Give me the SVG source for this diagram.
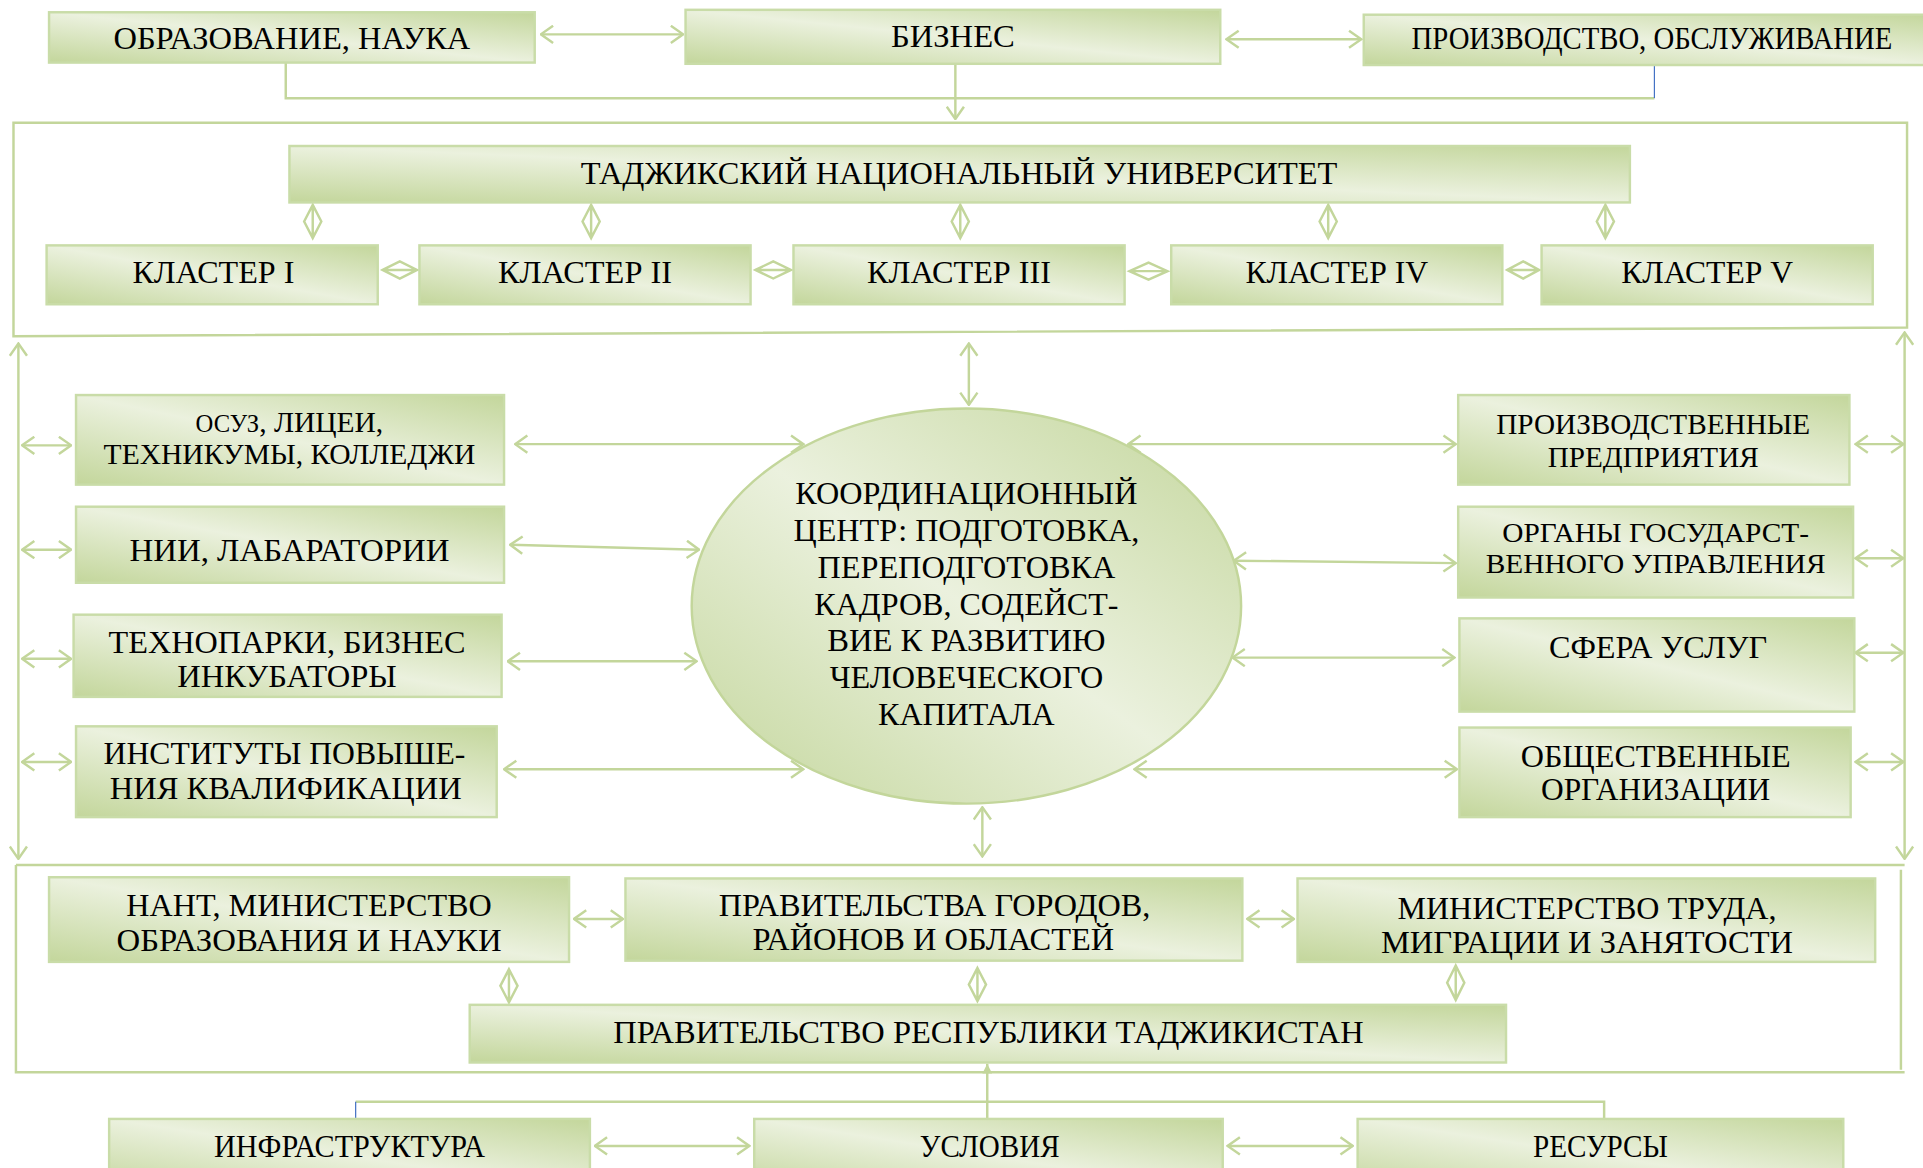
<svg xmlns="http://www.w3.org/2000/svg" width="1923" height="1168" viewBox="0 0 1923 1168">
<defs>
<linearGradient id="gr" x1="1" y1="0" x2="0" y2="1">
<stop offset="0" stop-color="#c3d69b"/>
<stop offset="0.5" stop-color="#ebf1de"/>
<stop offset="1" stop-color="#c3d69b"/>
</linearGradient>
<marker id="ar" viewBox="0 0 12 16" refX="11" refY="8" markerWidth="12" markerHeight="16" markerUnits="userSpaceOnUse" orient="auto-start-reverse">
<path d="M1,1 L11,8 L1,15" fill="none" stroke="#c3d69b" stroke-width="2"/>
</marker>
<marker id="af" viewBox="0 0 8 8" refX="8" refY="4" markerWidth="8" markerHeight="8" markerUnits="userSpaceOnUse" orient="auto">
<path d="M0,0 L8,4 L0,8 Z" fill="#c3d69b"/>
</marker>
</defs>
<style>
.box{fill:url(#gr);stroke:#c9dca8;stroke-width:2}
.fr{fill:none;stroke:#c3d69b;stroke-width:2}
.c{fill:none;stroke:#c3d69b;stroke-width:2}
.ca{fill:none;stroke:#c3d69b;stroke-width:2;marker-start:url(#ar);marker-end:url(#ar)}
.ce{fill:none;stroke:#c3d69b;stroke-width:2;marker-end:url(#ar)}
.cf{fill:none;stroke:#c3d69b;stroke-width:2;marker-end:url(#af)}
.bl{fill:none;stroke:#4472c4;stroke-width:1}
.dm{fill:none;stroke:#c3d69b;stroke-width:2}
.t{font-family:"Liberation Serif","Times New Roman",serif;font-size:26px;fill:#000;text-anchor:middle}
.s{font-size:24px}
.x{font-size:22px}
.n{font-size:26px}
</style>
<rect width="1923" height="1168" fill="#ffffff"/>
<g transform="scale(1.2264 1.2269)">
<g id="frames">
<path id="frame-university" class="fr" d="M11,100 H1555 V267 L11,274 Z"/>
<path id="frame-government" class="fr" d="M13,705 H1553 M1550,709 V872 M1553,874 H13 V705"/>
</g>
<g id="connectors">
<path class="ca" d="M441,28 H557"/>
<path class="ca" d="M1000,32 H1110"/>
<path class="c" d="M233,51 V80 H1349"/>
<path class="bl" d="M1349,53 V80"/>
<path class="ce" d="M779,52 V97"/>
<path class="dm" d="M255,167 L262,180.5 L255,194 L248,180.5 Z M255,167 V194"/>
<path class="dm" d="M482,167 L489,180.5 L482,194 L475,180.5 Z M482,167 V194"/>
<path class="dm" d="M783,167 L790,180.5 L783,194 L776,180.5 Z M783,167 V194"/>
<path class="dm" d="M1083,167 L1090,180.5 L1083,194 L1076,180.5 Z M1083,167 V194"/>
<path class="dm" d="M1309,167 L1316,180.5 L1309,194 L1302,180.5 Z M1309,167 V194"/>
<path class="dm" d="M312,220 L326,213 L340,220 L326,227 Z M312,220 H340"/>
<path class="dm" d="M616,220 L630.5,213 L645,220 L630.5,227 Z M616,220 H645"/>
<path class="dm" d="M921,221 L936.5,214 L952,221 L936.5,228 Z M921,221 H952"/>
<path class="dm" d="M1229,220 L1242,213 L1255,220 L1242,227 Z M1229,220 H1255"/>
<path class="ca" d="M15,280 V700"/>
<path class="ca" d="M1553,271 V700"/>
<path class="ca" d="M18,363 H58"/>
<path class="ca" d="M18,448 H58"/>
<path class="ca" d="M18,537 H58"/>
<path class="ca" d="M18,621 H58"/>
<path class="ca" d="M1513,362 H1552"/>
<path class="ca" d="M1513,455 H1552"/>
<path class="ca" d="M1513,532 H1552"/>
<path class="ca" d="M1513,621 H1552"/>
<path class="ca" d="M420,362 H655"/>
<path class="ca" d="M416,444 L570,448"/>
<path class="ca" d="M414,539 H568"/>
<path class="ca" d="M411,627 H655"/>
<path class="ca" d="M920,362 H1187"/>
<path class="ca" d="M1006,457 L1187,459"/>
<path class="ca" d="M1005,536 H1186"/>
<path class="ca" d="M925,627 H1188"/>
<path class="ca" d="M790,280 V330"/>
<path class="ca" d="M801,658 V698"/>
<path class="ca" d="M468,749 H508"/>
<path class="ca" d="M1017,749 H1055"/>
<path class="dm" d="M415,790 L422,803.5 L415,817 L408,803.5 Z M415,790 V817"/>
<path class="dm" d="M797,789 L804,802.5 L797,816 L790,802.5 Z M797,789 V816"/>
<path class="dm" d="M1187,787 L1194,801 L1187,815 L1180,801 Z M1187,787 V815"/>
<path class="ca" d="M485,934 H611"/>
<path class="ca" d="M1001,934 H1103"/>
<path class="c" d="M290,898 H1308 V912"/>
<path class="bl" d="M290,898 V912"/>
<path class="cf" d="M805,912 V867"/>
</g>
<g id="n-obrazovanie"><rect class="box" x="40" y="10" width="396" height="41"/><text class="t" x="238" y="40" textLength="291" lengthAdjust="spacingAndGlyphs">ОБРАЗОВАНИЕ, НАУКА</text></g>
<g id="n-biznes"><rect class="box" x="559" y="8" width="436" height="44"/><text class="t" x="777" y="38" textLength="101" lengthAdjust="spacingAndGlyphs">БИЗНЕС</text></g>
<g id="n-proizvodstvo"><rect class="box" x="1112" y="12" width="470" height="41"/><text class="t" x="1347" y="40" textLength="392" lengthAdjust="spacingAndGlyphs">ПРОИЗВОДСТВО, ОБСЛУЖИВАНИЕ</text></g>
<g id="n-tnu"><rect class="box" x="236" y="119" width="1093" height="46"/><text class="t" x="782" y="150" textLength="617" lengthAdjust="spacingAndGlyphs">ТАДЖИКСКИЙ НАЦИОНАЛЬНЫЙ УНИВЕРСИТЕТ</text></g>
<g id="n-cl1"><rect class="box" x="38" y="200" width="270" height="48"/><text class="t" x="174" y="231" textLength="132" lengthAdjust="spacingAndGlyphs">КЛАСТЕР I</text></g>
<g id="n-cl2"><rect class="box" x="342" y="200" width="270" height="48"/><text class="t" x="477" y="231" textLength="142" lengthAdjust="spacingAndGlyphs">КЛАСТЕР II</text></g>
<g id="n-cl3"><rect class="box" x="647" y="200" width="270" height="48"/><text class="t" x="782" y="231" textLength="150" lengthAdjust="spacingAndGlyphs">КЛАСТЕР III</text></g>
<g id="n-cl4"><rect class="box" x="955" y="200" width="270" height="48"/><text class="t" x="1090" y="231" textLength="149" lengthAdjust="spacingAndGlyphs">КЛАСТЕР IV</text></g>
<g id="n-cl5"><rect class="box" x="1257" y="200" width="270" height="48"/><text class="t" x="1392" y="231" textLength="140" lengthAdjust="spacingAndGlyphs">КЛАСТЕР V</text></g>
<g id="n-osuz"><rect class="box" x="62" y="322" width="349" height="73"/><text class="t s" x="236" y="352" textLength="153" lengthAdjust="spacingAndGlyphs"><tspan font-size="20">ОСУЗ</tspan>, ЛИЦЕИ,</text><text class="t s" x="236" y="378" textLength="303" lengthAdjust="spacingAndGlyphs">ТЕХНИКУМЫ, КОЛЛЕДЖИ</text></g>
<g id="n-nii"><rect class="box" x="62" y="413" width="349" height="62"/><text class="t" x="236" y="457" textLength="261" lengthAdjust="spacingAndGlyphs">НИИ, ЛАБАРАТОРИИ</text></g>
<g id="n-tehnoparki"><rect class="box" x="60" y="501" width="349" height="67"/><text class="t" x="234" y="532" textLength="291" lengthAdjust="spacingAndGlyphs">ТЕХНОПАРКИ, БИЗНЕС</text><text class="t" x="234" y="560" textLength="179" lengthAdjust="spacingAndGlyphs">ИНКУБАТОРЫ</text></g>
<g id="n-instituty"><rect class="box" x="62" y="592" width="343" height="74"/><text class="t" x="232" y="623" textLength="295" lengthAdjust="spacingAndGlyphs">ИНСТИТУТЫ ПОВЫШЕ-</text><text class="t" x="233" y="651" textLength="287" lengthAdjust="spacingAndGlyphs">НИЯ КВАЛИФИКАЦИИ</text></g>
<g id="n-predpriyatiya"><rect class="box" x="1189" y="322" width="319" height="73"/><text class="t s" x="1348" y="354" textLength="256" lengthAdjust="spacingAndGlyphs">ПРОИЗВОДСТВЕННЫЕ</text><text class="t s" x="1348" y="381" textLength="172" lengthAdjust="spacingAndGlyphs">ПРЕДПРИЯТИЯ</text></g>
<g id="n-organy"><rect class="box" x="1189" y="413" width="322" height="74"/><text class="t x" x="1350" y="442" textLength="250" lengthAdjust="spacingAndGlyphs">ОРГАНЫ ГОСУДАРСТ-</text><text class="t x" x="1350" y="467" textLength="277" lengthAdjust="spacingAndGlyphs">ВЕННОГО УПРАВЛЕНИЯ</text></g>
<g id="n-sfera"><rect class="box" x="1190" y="504" width="322" height="76"/><text class="t" x="1352" y="536" textLength="178" lengthAdjust="spacingAndGlyphs">СФЕРА УСЛУГ</text></g>
<g id="n-obshchestvennye"><rect class="box" x="1190" y="593" width="319" height="73"/><text class="t" x="1350" y="625" textLength="220" lengthAdjust="spacingAndGlyphs">ОБЩЕСТВЕННЫЕ</text><text class="t" x="1350" y="652" textLength="187" lengthAdjust="spacingAndGlyphs">ОРГАНИЗАЦИИ</text></g>
<g id="n-centr"><ellipse cx="788" cy="494" rx="224" ry="161" fill="url(#gr)" stroke="#c3d69b" stroke-width="2"/>
<text class="t" x="788" y="411" textLength="279" lengthAdjust="spacingAndGlyphs">КООРДИНАЦИОННЫЙ</text>
<text class="t" x="788" y="441" textLength="282" lengthAdjust="spacingAndGlyphs">ЦЕНТР: ПОДГОТОВКА,</text>
<text class="t" x="788" y="471" textLength="243" lengthAdjust="spacingAndGlyphs">ПЕРЕПОДГОТОВКА</text>
<text class="t" x="788" y="501" textLength="248" lengthAdjust="spacingAndGlyphs">КАДРОВ, СОДЕЙСТ-</text>
<text class="t" x="788" y="531" textLength="227" lengthAdjust="spacingAndGlyphs">ВИЕ К РАЗВИТИЮ</text>
<text class="t" x="788" y="561" textLength="223" lengthAdjust="spacingAndGlyphs">ЧЕЛОВЕЧЕСКОГО</text>
<text class="t" x="788" y="591" textLength="144" lengthAdjust="spacingAndGlyphs">КАПИТАЛА</text></g>
<g id="n-nant"><rect class="box" x="40" y="715" width="424" height="69"/><text class="t n" x="252" y="747" textLength="298" lengthAdjust="spacingAndGlyphs">НАНТ, МИНИСТЕРСТВО</text><text class="t n" x="252" y="775" textLength="314" lengthAdjust="spacingAndGlyphs">ОБРАЗОВАНИЯ И НАУКИ</text></g>
<g id="n-pravitelstva"><rect class="box" x="510" y="716" width="503" height="67"/><text class="t n" x="762" y="747" textLength="352" lengthAdjust="spacingAndGlyphs">ПРАВИТЕЛЬСТВА ГОРОДОВ,</text><text class="t n" x="761" y="774" textLength="295" lengthAdjust="spacingAndGlyphs">РАЙОНОВ И ОБЛАСТЕЙ</text></g>
<g id="n-mintruda"><rect class="box" x="1058" y="716" width="471" height="68"/><text class="t n" x="1294" y="749" textLength="309" lengthAdjust="spacingAndGlyphs">МИНИСТЕРСТВО ТРУДА,</text><text class="t n" x="1294" y="777" textLength="336" lengthAdjust="spacingAndGlyphs">МИГРАЦИИ И ЗАНЯТОСТИ</text></g>
<g id="n-pravrt"><rect class="box" x="383" y="819" width="845" height="47"/><text class="t n" x="806" y="850" textLength="612" lengthAdjust="spacingAndGlyphs">ПРАВИТЕЛЬСТВО РЕСПУБЛИКИ ТАДЖИКИСТАН</text></g>
<g id="n-infra"><rect class="box" x="89" y="912" width="392" height="60"/><text class="t n" x="285" y="943" textLength="221" lengthAdjust="spacingAndGlyphs">ИНФРАСТРУКТУРА</text></g>
<g id="n-usloviya"><rect class="box" x="615" y="912" width="382" height="60"/><text class="t n" x="807" y="943" textLength="114" lengthAdjust="spacingAndGlyphs">УСЛОВИЯ</text></g>
<g id="n-resursy"><rect class="box" x="1107" y="912" width="396" height="60"/><text class="t n" x="1305" y="943" textLength="110" lengthAdjust="spacingAndGlyphs">РЕСУРСЫ</text></g>
</g>
</svg>
